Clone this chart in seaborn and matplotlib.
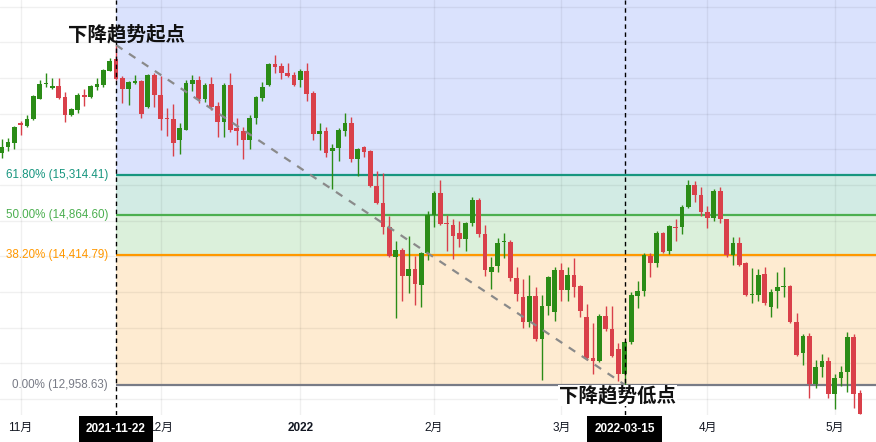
import numpy as np
import matplotlib
matplotlib.use("Agg")
import matplotlib.pyplot as plt
import matplotlib.transforms as mtransforms
import seaborn as sns

# ---- data ----
first_idx = -18   # bar number of the first candle, 0 = 2021-11-22

opens = [15564, 15624, 15668, 15893, 15867, 15938, 16167, 16328, 16286, 16305,
         16182, 15983, 16044, 16215, 16185, 16297, 16316, 16477,
         16608, 16398, 16272, 16339, 16361, 16073, 16432, 16215, 15946, 15935,
         15702, 15822, 16331, 16373, 16159, 16328, 16081, 15904, 16316, 15834,
         15811, 15707, 15949, 16178, 16316, 16552, 16530, 16459, 16429, 16373,
         16474, 16230, 15770, 15811, 15579, 15612, 15803, 15890, 15489, 15631,
         15586, 15194, 15003, 14733, 14388, 14475, 14175, 14261, 14082, 14433,
         14864, 15115, 14775, 14755, 14665, 14598, 14770, 15036, 14654, 14220,
         14287, 14557, 14565, 14160, 13939, 13658, 13958, 13478, 13838, 13771,
         14250, 14025, 14194, 14070, 13722, 13262, 13228, 13734, 13584, 13360,
         13085, 13438, 13958, 14006, 14407, 14321, 14658, 14456, 14733, 14725,
         14950, 15205, 15092, 14901, 14826, 15137, 14820, 14419, 14553, 14329,
         13966, 13966, 14202, 13835, 14015, 14059, 14070, 13666, 13321, 13509,
         12973, 13153, 13228, 12861, 13034, 13097, 13498, 12872]
highs = [15721, 15732, 15867, 15916, 15980, 16204, 16373, 16455, 16395, 16395,
         16238, 16064, 16227, 16272, 16316, 16395, 16496, 16620,
         16770, 16418, 16361, 16429, 16373, 16440, 16455, 16418, 16058, 16114,
         15890, 16373, 16432, 16421, 16339, 16406, 16129, 16339, 16455, 15946,
         15845, 15980, 16193, 16350, 16571, 16653, 16567, 16564, 16462, 16504,
         16564, 16249, 15893, 15848, 15665, 15834, 16005, 15968, 15620, 15637,
         15598, 15362, 15336, 14857, 14576, 14489, 14632, 14407, 14444, 14913,
         15137, 15261, 14868, 14820, 14800, 14781, 15062, 15051, 14755, 14388,
         14606, 14658, 14584, 14284, 14146, 14194, 14059, 13970, 14183, 14284,
         14321, 14276, 14381, 14076, 13865, 13651, 13753, 13846, 13846, 13427,
         13453, 13995, 14127, 14433, 14433, 14680, 14669, 14755, 14820, 14980,
         15261, 15250, 15174, 14961, 15160, 15182, 14823, 14621, 14613, 14334,
         14269, 14258, 14284, 14033, 14228, 14284, 14076, 13764, 13528, 13535,
         13239, 13307, 13273, 13082, 13172, 13546, 13531, 12903]
lows = [15508, 15586, 15609, 15766, 15856, 15931, 16159, 16297, 16272, 16163,
        15904, 15974, 16006, 16084, 16178, 16260, 16297, 16474,
        16373, 16118, 16092, 16333, 15949, 16058, 16073, 15822, 15755, 15530,
        15553, 15817, 16252, 16118, 16129, 16036, 15736, 15736, 15792, 15643,
        15497, 15601, 15882, 16140, 16305, 16455, 16387, 16410, 16305, 16297,
        16140, 15710, 15598, 15511, 15156, 15474, 15755, 15455, 15306, 15511,
        15174, 14986, 14651, 14391, 13704, 13894, 13985, 13854, 13827, 14359,
        14725, 14755, 14456, 14366, 14509, 14464, 14744, 14621, 14175, 14029,
        14220, 14377, 14127, 13894, 13592, 13603, 13445, 13018, 13744, 13677,
        13894, 13902, 13947, 13722, 13236, 13079, 13220, 13565, 13265, 13004,
        12959, 13416, 13815, 13958, 14172, 14284, 14433, 14426, 14568, 14651,
        14943, 15006, 14857, 14714, 14800, 14770, 14388, 14306, 14295, 13953,
        13872, 13902, 13857, 13714, 13815, 13939, 13649, 13284, 13183, 12813,
        12925, 13049, 12813, 12689, 12947, 12880, 12704, 12633]
closes = [15631, 15680, 15856, 15871, 15942, 16193, 16336, 16342, 16305, 16174,
          15983, 16055, 16204, 16185, 16305, 16328, 16485, 16586,
          16384, 16272, 16350, 16361, 15994, 16432, 16204, 15935, 15935, 15668,
          15834, 16342, 16373, 16163, 16316, 16073, 15904, 16316, 15822, 15811,
          15707, 15957, 16182, 16294, 16552, 16522, 16455, 16421, 16316, 16474,
          16219, 15770, 15811, 15556, 15617, 15814, 15890, 15489, 15606, 15567,
          15186, 14995, 14725, 14400, 14471, 14175, 14261, 14085, 14433, 14868,
          15115, 14763, 14759, 14624, 14598, 14770, 15036, 14647, 14242, 14284,
          14553, 14568, 14152, 13973, 13658, 13958, 13478, 13846, 14172, 14250,
          14025, 14194, 14059, 13782, 13254, 13228, 13734, 13584, 13284, 13085,
          13438, 13970, 14014, 14415, 14321, 14658, 14452, 14736, 14722, 14957,
          15205, 15085, 14894, 14826, 15137, 14820, 14419, 14553, 14306, 13962,
          13981, 14194, 13872, 14003, 14059, 14070, 13658, 13292, 13509, 12973,
          13161, 13228, 12861, 13034, 13105, 13498, 12861, 12636]

tick_pos = [-15, 7, 29, 50, 70, 93, 113]
tick_labels = ["11月", "12月", "2022", "2月", "3月", "4月", "5月"]

fib_ratios = [0.618, 0.5, 0.382, 0.0]
fib_prices = [15314.41, 14864.60, 14414.79, 12958.63]
fib_colors = ["#17967f", "#4caf50", "#ff9800", "#787b86"]
zone_colors = ["#dae2fd", "#d2ebe4", "#dbf0db", "#feebd1"]

grid_prices = [12800, 13200, 13600, 14000, 14400, 14800, 15200, 15600, 16000, 16400, 16800, 17200]

start_idx, end_idx = 0, 80
start_date, end_date = "2021-11-22", "2022-03-15"
start_text, end_text = "下降趋势起点", "下降趋势低点"

# ---- plot ----
sns.set_theme(style="white")
plt.rcParams["font.family"] = ["Liberation Sans", "Noto Sans CJK SC", "DejaVu Sans"]

x = np.arange(first_idx, first_idx + len(opens))
o, h, l, c = map(np.array, (opens, highs, lows, closes))
up = c >= o
green, red = "#2b8c17", "#d9404a"

fig = plt.figure(figsize=(8.76, 4.42), dpi=100)
ax = fig.add_axes([0, 27 / 442, 1, 415 / 442])
xmin, xmax = -18.24, 119.5
ymin, ymax = 12620, 17275
ax.set_xlim(xmin, xmax)
ax.set_ylim(ymin, ymax)

# fib zones
bounds = [ymax] + fib_prices
for i, col in enumerate(zone_colors):
    ax.fill_between([start_idx, xmax], bounds[i + 1], bounds[i], color=col, lw=0, zorder=0)

# grid
for g in grid_prices:
    ax.axhline(g, color="black", alpha=0.06, lw=1, zorder=0.5)
for t in tick_pos:
    ax.axvline(t, color="black", alpha=0.06, lw=1, zorder=0.5)

# fib lines + labels
for r, p, col in zip(fib_ratios, fib_prices, fib_colors):
    ax.hlines(p, start_idx, xmax, color=col, lw=1.6, zorder=2)
    ax.text(start_idx - 1.26, p, "{:.2f}% ({:,.2f})".format(r * 100, p),
            color=col, fontsize=8.4, ha="right", va="center", zorder=5)

# candles
cols = np.where(up, green, red)
ax.vlines(x, l, h, colors=cols, lw=1.0, zorder=3)
body = np.maximum(np.abs(c - o), 10)
ax.bar(x, body, bottom=np.minimum(o, c), width=0.74, color=cols, lw=0, zorder=3)

# trend line peak -> low
sns.lineplot(x=[start_idx, end_idx], y=[h[start_idx - first_idx], l[end_idx - first_idx]],
             ax=ax, color="#8a8a8a", lw=1.6, linestyle=(0, (3.5, 3.5)), zorder=4)

# marker lines
for xi in (start_idx, end_idx):
    ax.axvline(xi, color="black", lw=1.0, linestyle=(0, (3.2, 2.6)), zorder=4)

ax.text(1.7, 16883, start_text, fontsize=14, fontweight="bold", ha="center", va="center",
        color="#111111", zorder=6)
ax.text(78.8, 12840, end_text, fontsize=14, fontweight="bold", ha="center", va="center",
        color="#111111", zorder=6,
        bbox=dict(boxstyle="square,pad=0.05", fc="white", ec="none"))

# x ticks
ax.set_xticks(tick_pos)
ax.set_xticklabels(tick_labels, fontsize=8.5, color="#131722")
for lab in ax.get_xticklabels():
    if lab.get_text() == "2022":
        lab.set_fontweight("bold")
ax.tick_params(axis="x", length=0, pad=5)
ax.set_yticks([])
for s in ax.spines.values():
    s.set_visible(False)

trans = mtransforms.blended_transform_factory(ax.transData, ax.transAxes)
for xi, d in ((start_idx, start_date), (end_idx, end_date)):
    ax.text(xi, -0.034, d, transform=trans, fontsize=8.5, fontweight="bold", color="white",
            ha="center", va="center", zorder=10, clip_on=False,
            bbox=dict(boxstyle="square,pad=0.6", fc="black", ec="none"))

fig.savefig("out.png", dpi=100)
